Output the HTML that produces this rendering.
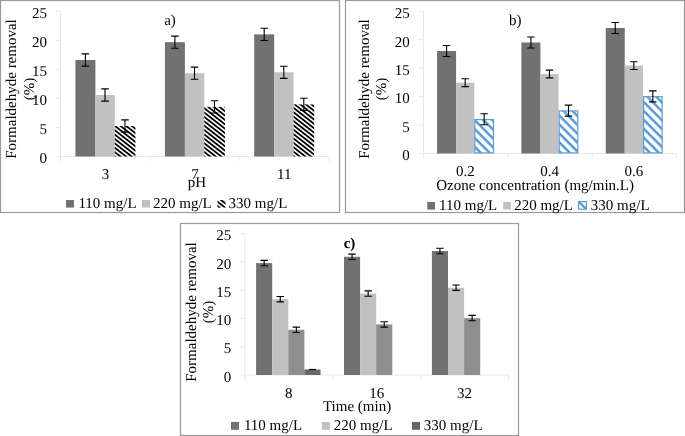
<!DOCTYPE html>
<html><head><meta charset="utf-8"><style>
html,body{margin:0;padding:0;background:#fff;width:685px;height:436px;overflow:hidden;position:relative;}
</style></head><body>
<svg width="685" height="436" viewBox="0 0 685 436" style="position:absolute;left:0;top:0;will-change:transform" text-rendering="geometricPrecision">
<defs>
<pattern id="hatchA" patternUnits="userSpaceOnUse" width="20" height="3.45" patternTransform="rotate(38)">
<rect x="0" y="0" width="20" height="3.45" fill="#fff"/><rect x="0" y="0" width="20" height="1.8" fill="#000"/></pattern>
<pattern id="hatchB" patternUnits="userSpaceOnUse" width="20" height="6.3" patternTransform="rotate(45)">
<rect x="0" y="0" width="20" height="6.3" fill="#fff"/><rect x="0" y="0" width="20" height="2.5" fill="#5b9bd5"/></pattern>
</defs>
<g font-family='"Liberation Serif", serif' fill="#000">
<rect x="0.5" y="0.5" width="339" height="212" fill="none" stroke="#9a9a9a" stroke-width="1.2"/>
<line x1="60.5" y1="11.4" x2="60.5" y2="156.5" stroke="#e8e8e8" stroke-width="1"/>
<line x1="56.0" y1="11.40" x2="60.5" y2="11.40" stroke="#e8e8e8" stroke-width="1"/>
<line x1="56.0" y1="40.42" x2="60.5" y2="40.42" stroke="#e8e8e8" stroke-width="1"/>
<line x1="56.0" y1="69.44" x2="60.5" y2="69.44" stroke="#e8e8e8" stroke-width="1"/>
<line x1="56.0" y1="98.46" x2="60.5" y2="98.46" stroke="#e8e8e8" stroke-width="1"/>
<line x1="56.0" y1="127.48" x2="60.5" y2="127.48" stroke="#e8e8e8" stroke-width="1"/>
<line x1="56.0" y1="156.50" x2="60.5" y2="156.50" stroke="#e8e8e8" stroke-width="1"/>
<line x1="60.5" y1="156.5" x2="329.5" y2="156.5" stroke="#e8e8e8" stroke-width="1"/>
<line x1="60.50" y1="156.5" x2="60.50" y2="161.5" stroke="#e8e8e8" stroke-width="1"/>
<line x1="150.17" y1="156.5" x2="150.17" y2="161.5" stroke="#e8e8e8" stroke-width="1"/>
<line x1="239.83" y1="156.5" x2="239.83" y2="161.5" stroke="#e8e8e8" stroke-width="1"/>
<line x1="329.50" y1="156.5" x2="329.50" y2="161.5" stroke="#e8e8e8" stroke-width="1"/>
<text x="47.1" y="18.10" text-anchor="end" font-size="15" font-weight="normal" >25</text>
<text x="47.1" y="47.12" text-anchor="end" font-size="15" font-weight="normal" >20</text>
<text x="47.1" y="76.14" text-anchor="end" font-size="15" font-weight="normal" >15</text>
<text x="47.1" y="105.16" text-anchor="end" font-size="15" font-weight="normal" >10</text>
<text x="47.1" y="134.18" text-anchor="end" font-size="15" font-weight="normal" >5</text>
<text x="47.1" y="163.20" text-anchor="end" font-size="15" font-weight="normal" >0</text>
<rect x="75.40" y="60.00" width="20.00" height="96.50" fill="#717171"/>
<rect x="95.40" y="95.00" width="19.40" height="61.50" fill="#c1c1c1"/>
<rect x="114.80" y="126.00" width="20.60" height="30.50" fill="url(#hatchA)"/>
<path d="M81.65 53.90H89.15M85.40 53.90V66.10M81.65 66.10H89.15" stroke="#000" stroke-width="1.1" fill="none"/>
<path d="M101.25 88.90H108.75M105.00 88.90V101.10M101.25 101.10H108.75" stroke="#000" stroke-width="1.1" fill="none"/>
<path d="M121.25 119.90H128.75M125.00 119.90V132.10M121.25 132.10H128.75" stroke="#000" stroke-width="1.1" fill="none"/>
<text x="105.40" y="179.10" text-anchor="middle" font-size="15" font-weight="normal" >3</text>
<rect x="164.90" y="42.20" width="20.00" height="114.30" fill="#717171"/>
<rect x="184.90" y="73.20" width="19.40" height="83.30" fill="#c1c1c1"/>
<rect x="204.30" y="106.90" width="20.60" height="49.60" fill="url(#hatchA)"/>
<path d="M171.15 36.10H178.65M174.90 36.10V48.30M171.15 48.30H178.65" stroke="#000" stroke-width="1.1" fill="none"/>
<path d="M190.75 67.10H198.25M194.50 67.10V79.30M190.75 79.30H198.25" stroke="#000" stroke-width="1.1" fill="none"/>
<path d="M210.75 100.80H218.25M214.50 100.80V113.00M210.75 113.00H218.25" stroke="#000" stroke-width="1.1" fill="none"/>
<text x="194.90" y="179.10" text-anchor="middle" font-size="15" font-weight="normal" >7</text>
<rect x="254.20" y="34.40" width="20.00" height="122.10" fill="#717171"/>
<rect x="274.20" y="72.30" width="19.40" height="84.20" fill="#c1c1c1"/>
<rect x="293.60" y="104.40" width="20.60" height="52.10" fill="url(#hatchA)"/>
<path d="M260.45 28.30H267.95M264.20 28.30V40.50M260.45 40.50H267.95" stroke="#000" stroke-width="1.1" fill="none"/>
<path d="M280.05 66.20H287.55M283.80 66.20V78.40M280.05 78.40H287.55" stroke="#000" stroke-width="1.1" fill="none"/>
<path d="M300.05 98.30H307.55M303.80 98.30V110.50M300.05 110.50H307.55" stroke="#000" stroke-width="1.1" fill="none"/>
<text x="284.20" y="179.10" text-anchor="middle" font-size="15" font-weight="normal" >11</text>
<text x="197" y="187.20" text-anchor="middle" font-size="15" font-weight="normal" >pH</text>
<text x="170" y="24.90" text-anchor="middle" font-size="15" font-weight="normal" >a)</text>
<text transform="translate(16.3,89) rotate(-90)" text-anchor="middle" font-size="15">Formaldehyde removal</text>
<text transform="translate(33.5,89) rotate(-90)" text-anchor="middle" font-size="15">(%)</text>
<rect x="66.00" y="200.00" width="8.00" height="7.60" fill="#717171"/>
<text x="78.4" y="207.90" text-anchor="start" font-size="15" font-weight="normal" >110 mg/L</text>
<rect x="142.00" y="200.00" width="8.00" height="7.60" fill="#c1c1c1"/>
<text x="153" y="207.90" text-anchor="start" font-size="15" font-weight="normal" >220 mg/L</text>
<rect x="217.50" y="200.00" width="8.00" height="7.60" fill="url(#hatchA)"/>
<text x="228.6" y="207.90" text-anchor="start" font-size="15" font-weight="normal" >330 mg/L</text>
<rect x="345.5" y="0.5" width="339" height="212" fill="none" stroke="#9a9a9a" stroke-width="1.2"/>
<line x1="423.5" y1="11.4" x2="423.5" y2="153.5" stroke="#e8e8e8" stroke-width="1"/>
<line x1="419.0" y1="11.40" x2="423.5" y2="11.40" stroke="#e8e8e8" stroke-width="1"/>
<line x1="419.0" y1="39.82" x2="423.5" y2="39.82" stroke="#e8e8e8" stroke-width="1"/>
<line x1="419.0" y1="68.24" x2="423.5" y2="68.24" stroke="#e8e8e8" stroke-width="1"/>
<line x1="419.0" y1="96.66" x2="423.5" y2="96.66" stroke="#e8e8e8" stroke-width="1"/>
<line x1="419.0" y1="125.08" x2="423.5" y2="125.08" stroke="#e8e8e8" stroke-width="1"/>
<line x1="419.0" y1="153.50" x2="423.5" y2="153.50" stroke="#e8e8e8" stroke-width="1"/>
<line x1="423.5" y1="153.5" x2="676.5" y2="153.5" stroke="#e8e8e8" stroke-width="1"/>
<line x1="423.50" y1="153.5" x2="423.50" y2="158.5" stroke="#e8e8e8" stroke-width="1"/>
<line x1="507.83" y1="153.5" x2="507.83" y2="158.5" stroke="#e8e8e8" stroke-width="1"/>
<line x1="592.17" y1="153.5" x2="592.17" y2="158.5" stroke="#e8e8e8" stroke-width="1"/>
<line x1="676.50" y1="153.5" x2="676.50" y2="158.5" stroke="#e8e8e8" stroke-width="1"/>
<text x="409.8" y="18.10" text-anchor="end" font-size="15" font-weight="normal" >25</text>
<text x="409.8" y="46.52" text-anchor="end" font-size="15" font-weight="normal" >20</text>
<text x="409.8" y="74.94" text-anchor="end" font-size="15" font-weight="normal" >15</text>
<text x="409.8" y="103.36" text-anchor="end" font-size="15" font-weight="normal" >10</text>
<text x="409.8" y="131.78" text-anchor="end" font-size="15" font-weight="normal" >5</text>
<text x="409.8" y="160.20" text-anchor="end" font-size="15" font-weight="normal" >0</text>
<rect x="437.07" y="51.00" width="19.00" height="102.50" fill="#717171"/>
<rect x="456.07" y="82.70" width="18.20" height="70.80" fill="#c1c1c1"/>
<rect x="474.87" y="119.60" width="18.60" height="33.30" fill="url(#hatchB)" stroke="#5b9bd5" stroke-width="1.2"/>
<path d="M442.82 45.50H450.32M446.57 45.50V56.50M442.82 56.50H450.32" stroke="#000" stroke-width="1.1" fill="none"/>
<path d="M461.42 78.80H468.92M465.17 78.80V86.60M461.42 86.60H468.92" stroke="#000" stroke-width="1.1" fill="none"/>
<path d="M480.42 113.80H487.92M484.17 113.80V124.80M480.42 124.80H487.92" stroke="#000" stroke-width="1.1" fill="none"/>
<text x="465.27" y="176.30" text-anchor="middle" font-size="15" font-weight="normal" >0.2</text>
<rect x="521.40" y="42.50" width="19.00" height="111.00" fill="#717171"/>
<rect x="540.40" y="74.00" width="18.20" height="79.50" fill="#c1c1c1"/>
<rect x="559.20" y="110.90" width="18.60" height="42.00" fill="url(#hatchB)" stroke="#5b9bd5" stroke-width="1.2"/>
<path d="M527.15 37.00H534.65M530.90 37.00V48.00M527.15 48.00H534.65" stroke="#000" stroke-width="1.1" fill="none"/>
<path d="M545.75 70.10H553.25M549.50 70.10V77.90M545.75 77.90H553.25" stroke="#000" stroke-width="1.1" fill="none"/>
<path d="M564.75 105.10H572.25M568.50 105.10V116.10M564.75 116.10H572.25" stroke="#000" stroke-width="1.1" fill="none"/>
<text x="549.60" y="176.30" text-anchor="middle" font-size="15" font-weight="normal" >0.4</text>
<rect x="605.73" y="28.00" width="19.00" height="125.50" fill="#717171"/>
<rect x="624.73" y="65.60" width="18.20" height="87.90" fill="#c1c1c1"/>
<rect x="643.53" y="96.70" width="18.60" height="56.20" fill="url(#hatchB)" stroke="#5b9bd5" stroke-width="1.2"/>
<path d="M611.48 22.50H618.98M615.23 22.50V33.50M611.48 33.50H618.98" stroke="#000" stroke-width="1.1" fill="none"/>
<path d="M630.08 61.70H637.58M633.83 61.70V69.50M630.08 69.50H637.58" stroke="#000" stroke-width="1.1" fill="none"/>
<path d="M649.08 90.90H656.58M652.83 90.90V101.90M649.08 101.90H656.58" stroke="#000" stroke-width="1.1" fill="none"/>
<text x="633.93" y="176.30" text-anchor="middle" font-size="15" font-weight="normal" >0.6</text>
<text x="535.1" y="190.40" text-anchor="middle" font-size="15" font-weight="normal" >Ozone concentration (mg/min.L)</text>
<text x="515.2" y="24.90" text-anchor="middle" font-size="15" font-weight="normal" >b)</text>
<text transform="translate(369.35,89) rotate(-90)" text-anchor="middle" font-size="15">Formaldehyde removal</text>
<text transform="translate(386.3,89) rotate(-90)" text-anchor="middle" font-size="15">(%)</text>
<rect x="427.30" y="201.90" width="7.70" height="7.70" fill="#717171"/>
<text x="439.1" y="210.00" text-anchor="start" font-size="15" font-weight="normal" >110 mg/L</text>
<rect x="503.20" y="201.90" width="7.70" height="7.70" fill="#c1c1c1"/>
<text x="514.2" y="210.00" text-anchor="start" font-size="15" font-weight="normal" >220 mg/L</text>
<rect x="578.60" y="201.60" width="7.80" height="7.60" fill="#fff" stroke="#5b9bd5" stroke-width="1.2"/>
<path d="M579.2 202.2L585.8 208.6" stroke="#5b9bd5" stroke-width="2.4"/>
<text x="590.8" y="210.00" text-anchor="start" font-size="15" font-weight="normal" >330 mg/L</text>
<rect x="180.5" y="223.5" width="338" height="212" fill="none" stroke="#9a9a9a" stroke-width="1.2"/>
<line x1="244.8" y1="233.7" x2="244.8" y2="375.0" stroke="#e8e8e8" stroke-width="1"/>
<line x1="240.3" y1="233.70" x2="244.8" y2="233.70" stroke="#e8e8e8" stroke-width="1"/>
<line x1="240.3" y1="261.96" x2="244.8" y2="261.96" stroke="#e8e8e8" stroke-width="1"/>
<line x1="240.3" y1="290.22" x2="244.8" y2="290.22" stroke="#e8e8e8" stroke-width="1"/>
<line x1="240.3" y1="318.48" x2="244.8" y2="318.48" stroke="#e8e8e8" stroke-width="1"/>
<line x1="240.3" y1="346.74" x2="244.8" y2="346.74" stroke="#e8e8e8" stroke-width="1"/>
<line x1="240.3" y1="375.00" x2="244.8" y2="375.00" stroke="#e8e8e8" stroke-width="1"/>
<line x1="244.8" y1="375.0" x2="508.5" y2="375.0" stroke="#e8e8e8" stroke-width="1"/>
<line x1="244.80" y1="375.0" x2="244.80" y2="380.0" stroke="#e8e8e8" stroke-width="1"/>
<line x1="332.70" y1="375.0" x2="332.70" y2="380.0" stroke="#e8e8e8" stroke-width="1"/>
<line x1="420.60" y1="375.0" x2="420.60" y2="380.0" stroke="#e8e8e8" stroke-width="1"/>
<line x1="508.50" y1="375.0" x2="508.50" y2="380.0" stroke="#e8e8e8" stroke-width="1"/>
<text x="231.3" y="240.40" text-anchor="end" font-size="15" font-weight="normal" >25</text>
<text x="231.3" y="268.66" text-anchor="end" font-size="15" font-weight="normal" >20</text>
<text x="231.3" y="296.92" text-anchor="end" font-size="15" font-weight="normal" >15</text>
<text x="231.3" y="325.18" text-anchor="end" font-size="15" font-weight="normal" >10</text>
<text x="231.3" y="353.44" text-anchor="end" font-size="15" font-weight="normal" >5</text>
<text x="231.3" y="381.70" text-anchor="end" font-size="15" font-weight="normal" >0</text>
<rect x="256.10" y="263.10" width="16.10" height="111.90" fill="#717171"/>
<path d="M260.40 260.40H267.90M264.15 260.40V265.80M260.40 265.80H267.90" stroke="#000" stroke-width="1.1" fill="none"/>
<rect x="272.20" y="299.20" width="16.10" height="75.80" fill="#c1c1c1"/>
<path d="M276.50 296.50H284.00M280.25 296.50V301.90M276.50 301.90H284.00" stroke="#000" stroke-width="1.1" fill="none"/>
<rect x="288.30" y="329.80" width="16.10" height="45.20" fill="#8e8e8e"/>
<path d="M292.60 327.10H300.10M296.35 327.10V332.50M292.60 332.50H300.10" stroke="#000" stroke-width="1.1" fill="none"/>
<rect x="304.40" y="369.50" width="16.10" height="5.50" fill="#686868"/>
<path d="M308.90 369.50H316.00" stroke="#000" stroke-width="1.2"/>
<text x="288.75" y="397.80" text-anchor="middle" font-size="15" font-weight="normal" >8</text>
<rect x="344.00" y="256.80" width="16.10" height="118.20" fill="#717171"/>
<path d="M348.30 254.10H355.80M352.05 254.10V259.50M348.30 259.50H355.80" stroke="#000" stroke-width="1.1" fill="none"/>
<rect x="360.10" y="293.60" width="16.10" height="81.40" fill="#c1c1c1"/>
<path d="M364.40 290.90H371.90M368.15 290.90V296.30M364.40 296.30H371.90" stroke="#000" stroke-width="1.1" fill="none"/>
<rect x="376.20" y="324.40" width="16.10" height="50.60" fill="#8e8e8e"/>
<path d="M380.50 321.70H388.00M384.25 321.70V327.10M380.50 327.10H388.00" stroke="#000" stroke-width="1.1" fill="none"/>
<text x="376.65" y="397.80" text-anchor="middle" font-size="15" font-weight="normal" >16</text>
<rect x="431.90" y="251.00" width="16.10" height="124.00" fill="#717171"/>
<path d="M436.20 248.30H443.70M439.95 248.30V253.70M436.20 253.70H443.70" stroke="#000" stroke-width="1.1" fill="none"/>
<rect x="448.00" y="287.70" width="16.10" height="87.30" fill="#c1c1c1"/>
<path d="M452.30 285.00H459.80M456.05 285.00V290.40M452.30 290.40H459.80" stroke="#000" stroke-width="1.1" fill="none"/>
<rect x="464.10" y="318.10" width="16.10" height="56.90" fill="#8e8e8e"/>
<path d="M468.40 315.40H475.90M472.15 315.40V320.80M468.40 320.80H475.90" stroke="#000" stroke-width="1.1" fill="none"/>
<text x="464.55" y="397.80" text-anchor="middle" font-size="15" font-weight="normal" >32</text>
<text x="357.1" y="410.90" text-anchor="middle" font-size="15" font-weight="normal" >Time (min)</text>
<text x="349.5" y="248.30" text-anchor="middle" font-size="15" font-weight="bold" >c)</text>
<text transform="translate(195.6,312) rotate(-90)" text-anchor="middle" font-size="15">Formaldehyde removal</text>
<text transform="translate(212.6,312) rotate(-90)" text-anchor="middle" font-size="15">(%)</text>
<rect x="231.00" y="421.90" width="8.00" height="7.90" fill="#717171"/>
<text x="243.9" y="430.20" text-anchor="start" font-size="15" font-weight="normal" >110 mg/L</text>
<rect x="321.80" y="421.90" width="8.00" height="7.90" fill="#c1c1c1"/>
<text x="333.8" y="430.20" text-anchor="start" font-size="15" font-weight="normal" >220 mg/L</text>
<rect x="412.00" y="421.90" width="8.00" height="7.90" fill="#666666"/>
<text x="423.8" y="430.20" text-anchor="start" font-size="15" font-weight="normal" >330 mg/L</text>
</g></svg>
</body></html>
